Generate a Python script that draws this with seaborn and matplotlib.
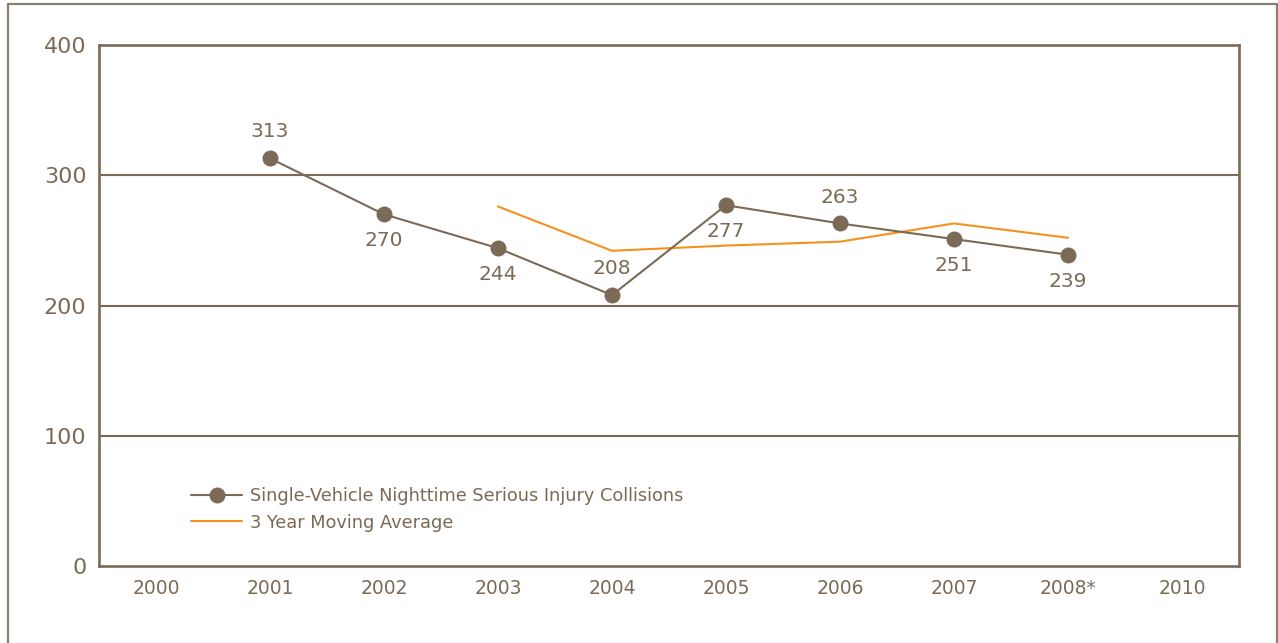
import matplotlib
matplotlib.use("Agg")
import matplotlib.pyplot as plt
from matplotlib.lines import Line2D
import numpy as np
import pandas as pd
import seaborn as sns

# Category axis (years) and the two series
categories = ["2000", "2001", "2002", "2003", "2004", "2005", "2006", "2007", "2008*", "2010"]
collision_years = ["2001", "2002", "2003", "2004", "2005", "2006", "2007", "2008*"]
collisions = [313, 270, 244, 208, 277, 263, 251, 239]
avg_years = ["2003", "2004", "2005", "2006", "2007", "2008*"]
moving_avg = [276, 242, 246, 249, 263, 252]
# label placement: +1 above the point, -1 below
label_side = [1, -1, -1, 1, -1, 1, -1, -1]
y_ticks = [0, 100, 200, 300, 400]

BROWN = "#7b6a56"
ORANGE = "#f7901e"
FRAME = "#8c7f70"

sns.set_theme(style="white")
plt.rcParams["font.family"] = ["DejaVu Sans"]

df_col = pd.DataFrame({"pos": [categories.index(y) for y in collision_years],
                       "value": collisions})
df_avg = pd.DataFrame({"pos": [categories.index(y) for y in avg_years],
                       "value": moving_avg})

fig = plt.figure(figsize=(12.78, 6.43), dpi=100)
ax = fig.add_axes([99 / 1278, 77 / 643, 1140 / 1278, 521 / 643])

# horizontal guide lines
for v in y_ticks[1:-1]:
    ax.axhline(v, color=BROWN, lw=1.5, zorder=1)

sns.lineplot(data=df_avg, x="pos", y="value", ax=ax, color=ORANGE, lw=1.5, zorder=2)
sns.lineplot(data=df_col, x="pos", y="value", ax=ax, color=BROWN, lw=1.5,
             marker="o", markersize=11.5, markeredgewidth=0, zorder=3)

for p, v, s in zip(df_col["pos"], df_col["value"], label_side):
    ax.annotate(str(v), (p, v), xytext=(0, 19 * s), textcoords="offset points",
                ha="center", va="center", fontsize=14.5, color=BROWN)

ax.set_xlim(-0.5, len(categories) - 0.5)
ax.set_ylim(0, 400)
ax.set_xticks(range(len(categories)))
ax.set_xticklabels(categories)
ax.set_yticks(y_ticks)
ax.set_yticklabels([str(t) for t in y_ticks])
ax.tick_params(axis="x", length=0, pad=9.5, labelsize=13.5, labelcolor=BROWN)
ax.tick_params(axis="y", length=0, pad=9, labelsize=16, labelcolor=BROWN)
ax.set_xlabel("")
ax.set_ylabel("")
for sp in ax.spines.values():
    sp.set_visible(True)
    sp.set_color(BROWN)
    sp.set_linewidth(1.9)

handles = [
    Line2D([], [], color=BROWN, lw=1.5, marker="o", markersize=11.5, markeredgewidth=0),
    Line2D([], [], color=ORANGE, lw=1.5),
]
ax.legend(handles, ["Single-Vehicle Nighttime Serious Injury Collisions", "3 Year Moving Average"],
          loc="upper left", bbox_to_anchor=(0.081, 0.152), frameon=False, fontsize=12.8,
          labelcolor=BROWN, handlelength=2.85, handletextpad=0.45, labelspacing=0.5,
          borderaxespad=0, borderpad=0)

# outer frame around the figure
W, H = 1278, 643
fig.add_artist(Line2D([8 / W, 8 / W], [0, 1 - 4 / H], color=FRAME, lw=1.6))
fig.add_artist(Line2D([8 / W, 1277 / W], [1 - 4 / H, 1 - 4 / H], color=FRAME, lw=1.6))
fig.add_artist(Line2D([1277 / W, 1277 / W], [0, 1 - 4 / H], color=FRAME, lw=1.6))

fig.savefig("out.png", dpi=100, facecolor="white")
